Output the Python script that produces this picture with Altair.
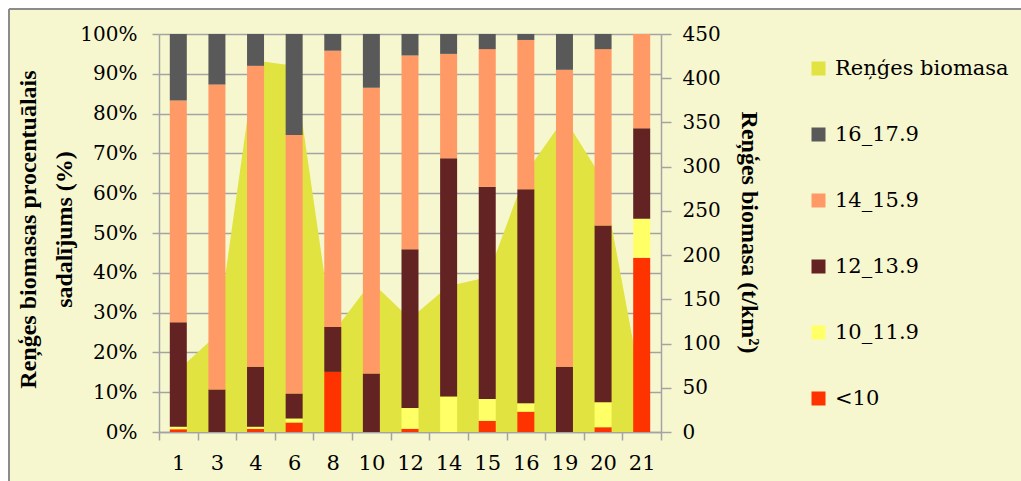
import altair as alt
import pandas as pd

# Sampling sites (category axis)
sites = ["1", "3", "4", "6", "8", "10", "12", "14", "15", "16", "19", "20", "21"]

# Percentage share of herring biomass by length class (cm), per site
cls_lt10 = [0.7, 0.0, 0.8, 2.4, 15.1, 0.0, 0.8, 0.0, 2.8, 5.1, 0.0, 1.2, 43.8]
cls_10 = [0.6, 0.0, 0.5, 1.0, 0.0, 0.0, 5.2, 8.9, 5.5, 2.1, 0.0, 6.3, 9.8]
cls_12 = [26.3, 10.7, 15.1, 6.3, 11.3, 14.7, 39.9, 59.9, 53.3, 53.8, 16.4, 44.4, 22.7]
cls_14 = [55.7, 76.6, 75.6, 64.9, 69.4, 71.8, 48.7, 26.2, 34.6, 37.5, 74.6, 44.3, 23.7]
cls_16 = [16.7, 12.7, 8.0, 25.4, 4.2, 13.5, 5.4, 5.0, 3.8, 1.5, 9.0, 3.8, 0.0]

# Total herring biomass (t/km2), per site
biomass = [70, 110, 420, 414, 112, 170, 128, 165, 175, 293, 355, 285, 50]

class_names = ["<10", "10_11.9", "12_13.9", "14_15.9", "16_17.9"]
area_name = "Reņģes biomasa"
legend_order = [area_name, "16_17.9", "14_15.9", "12_13.9", "10_11.9", "<10"]
palette = ["#E1E340", "#595959", "#FF9966", "#632323", "#FFFF66", "#FF3300"]

CREAM = "#F7F7CF"
GRID = "#A3A3A3"
LABEL_FONT = "DejaVu Serif"
TITLE_FONT = "Liberation Serif"

rows = []
for i, site in enumerate(sites):
    for rank, (name, series) in enumerate(
        zip(class_names, [cls_lt10, cls_10, cls_12, cls_14, cls_16])
    ):
        rows.append({"site": site, "cls": name, "pct": series[i], "rank": rank})
bars_df = pd.DataFrame(rows)
area_df = pd.DataFrame({"site": sites, "biomass": biomass, "series": area_name})

color_scale = alt.Scale(domain=legend_order, range=palette)
legend = alt.Legend(
    title=None,
    orient="none",
    legendX=649,
    legendY=24,
    symbolType="square",
    symbolSize=196,
    symbolStrokeWidth=0,
    labelFont=LABEL_FONT,
    labelFontSize=21,
    labelColor="black",
    labelLimit=400,
    labelOffset=6,
    rowPadding=44,
)

x_enc = alt.X(
    "site:N",
    sort=sites,
    scale=alt.Scale(paddingInner=0, paddingOuter=0),
    axis=alt.Axis(
        title=None,
        labelAngle=0,
        labelFont=LABEL_FONT,
        labelFontSize=21,
        labelColor="black",
        labelPadding=12,
        tickBand="extent",
        tickSize=8,
        tickColor=GRID,
        tickWidth=1.5,
        domainColor=GRID,
        domainWidth=1.5,
        grid=False,
    ),
)

area = (
    alt.Chart(area_df)
    .mark_area(opacity=1)
    .encode(
        x=x_enc,
        y=alt.Y(
            "biomass:Q",
            stack=None,
            scale=alt.Scale(domain=[0, 450], nice=False),
            axis=alt.Axis(
                orient="right",
                values=list(range(0, 451, 50)),
                grid=False,
                title="Reņģes biomasa (t/km²)",
                titleFont=TITLE_FONT,
                titleFontSize=24,
                titleFontWeight="bold",
                titleColor="black",
                titleAngle=90,
                titleAlign="center",
                titleBaseline="middle",
                titleX=87,
                titleY=198,
                labelFont=LABEL_FONT,
                labelFontSize=20,
                labelColor="black",
                labelPadding=11,
                tickSize=10,
                tickColor=GRID,
                tickWidth=1.5,
                domainColor=GRID,
                domainWidth=1.5,
            ),
        ),
        color=alt.Color("series:N", scale=color_scale, legend=legend),
    )
)

bars = (
    alt.Chart(bars_df)
    .mark_bar(size=17)
    .encode(
        x=x_enc,
        y=alt.Y(
            "pct:Q",
            stack="normalize",
            axis=alt.Axis(
                orient="left",
                format=".0%",
                values=[i / 10 for i in range(11)],
                grid=True,
                gridColor=GRID,
                gridWidth=1.5,
                title=["Reņģes biomasas procentuālais", "sadalījums (%)"],
                titleFont=TITLE_FONT,
                titleFontSize=24,
                titleFontWeight="bold",
                titleColor="black",
                titleAngle=270,
                titleAlign="center",
                titleBaseline="middle",
                titleLineHeight=36,
                titleX=-131,
                titleY=195,
                labelFont=LABEL_FONT,
                labelFontSize=20,
                labelColor="black",
                labelPadding=15,
                tickSize=7,
                tickColor=GRID,
                tickWidth=1.5,
                domainColor=GRID,
                domainWidth=1.5,
            ),
        ),
        color=alt.Color("cls:N", scale=color_scale, legend=legend),
        order=alt.Order("rank:Q"),
    )
)

# Outer frame: white margin strips with a grey edge along the top and left
one = pd.DataFrame({"k": [0]})
strip_top = alt.Chart(one).mark_rect(fill="white").encode(
    x=alt.value(-159), x2=alt.value(862), y=alt.value(-34), y2=alt.value(-25)
)
strip_left = alt.Chart(one).mark_rect(fill="white").encode(
    x=alt.value(-159), x2=alt.value(-150), y=alt.value(-34), y2=alt.value(447)
)
edge_top = alt.Chart(one).mark_rule(color="#8C8C8C", strokeWidth=2).encode(
    x=alt.value(-150), x2=alt.value(862), y=alt.value(-25)
)
edge_left = alt.Chart(one).mark_rule(color="#8C8C8C", strokeWidth=2).encode(
    x=alt.value(-150), y=alt.value(-25), y2=alt.value(447)
)

chart = (
    alt.layer(strip_top, strip_left, edge_top, edge_left, area, bars)
    .resolve_scale(y="independent")
    .properties(
        width=502,
        height=398,
        background=CREAM,
        autosize=alt.AutoSizeParams(type="none"),
        padding={"left": 159, "top": 34, "right": 360, "bottom": 49},
    )
    .configure_view(strokeWidth=0)
)

chart.save("out.html", embed_options={"renderer": "svg", "actions": False})
